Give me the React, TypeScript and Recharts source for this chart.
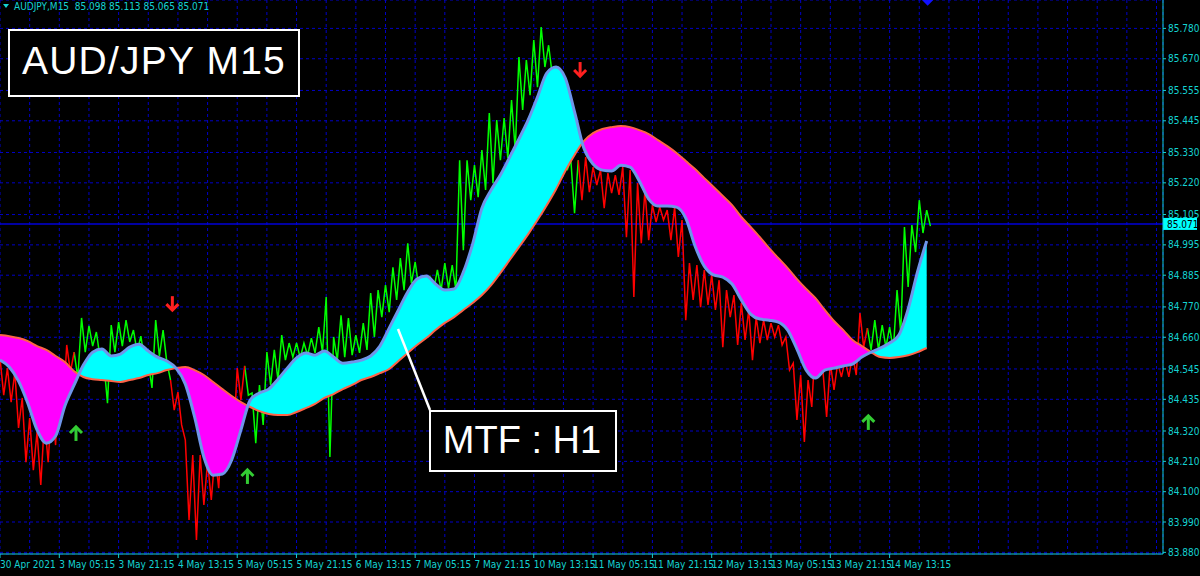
import React from 'react';
import {
  ComposedChart,
  Line,
  Area,
  Scatter,
  XAxis,
  YAxis,
  CartesianGrid,
  ReferenceLine,
} from 'recharts';

// x unit = one M15 bar. price is sampled every 8 bars (high, then low 4 bars later)
const priceSampleStep = 8;

const priceHighs = [
  84.585, 84.548, 84.534, 84.44, 84.367, 84.316, 84.36, 84.432, 84.559, 84.632,
  84.606, 84.73, 84.701, 84.679, 84.57, 84.704, 84.715, 84.722, 84.686, 84.664,
  84.57, 84.722, 84.686, 84.505, 84.461, 84.287, 84.233, 84.233, 84.207, 84.233,
  84.342, 84.45, 84.548, 84.556, 84.458, 84.487, 84.606, 84.614, 84.668, 84.639,
  84.639, 84.639, 84.657, 84.697, 84.806, 84.661, 84.74, 84.73, 84.668, 84.711,
  84.82, 84.831, 84.849, 84.914, 84.947, 85.001, 84.933, 84.878, 84.878, 84.904,
  84.929, 84.922, 85.302, 85.302, 85.284, 85.339, 85.473, 85.448, 85.455, 85.52,
  85.676, 85.665, 85.738, 85.785, 85.719, 85.611, 85.448, 85.302, 85.302, 85.313,
  85.277, 85.266, 85.255, 85.248, 85.277, 85.266, 85.219, 85.194, 85.139, 85.132,
  85.121, 85.132, 85.085, 84.929, 84.922, 84.904, 84.886, 84.867, 84.831, 84.813,
  84.784, 84.759, 84.733, 84.722, 84.711, 84.704, 84.661, 84.566, 84.523, 84.505,
  84.65, 84.541, 84.566, 84.566, 84.577, 84.595, 84.748, 84.693, 84.722, 84.704,
  84.697, 84.831, 85.06, 85.067, 85.157, 85.121,
];

const priceLows = [
  84.45, 84.425, 84.331, 84.207, 84.178, 84.124, 84.207, 84.269, 84.396, 84.534,
  84.512, 84.606, 84.628, 84.585, 84.421, 84.606, 84.628, 84.643, 84.606, 84.577,
  84.476, 84.592, 84.57, 84.396, 84.342, 83.997, 83.925, 84.052, 84.07, 84.113,
  84.197, 84.287, 84.432, 84.45, 84.276, 84.342, 84.487, 84.505, 84.577, 84.588,
  84.585, 84.595, 84.603, 84.606, 84.226, 84.577, 84.588, 84.595, 84.603, 84.614,
  84.661, 84.733, 84.751, 84.795, 84.831, 84.856, 84.838, 84.831, 84.831, 84.831,
  84.838, 84.831, 84.976, 85.157, 85.168, 85.194, 85.219, 85.302, 85.31, 85.339,
  85.484, 85.538, 85.567, 85.64, 85.611, 85.429, 85.266, 85.11, 85.157, 85.186,
  85.212, 85.128, 85.183, 85.176, 85.023, 84.806, 85.001, 85.012, 85.078, 85.085,
  85.012, 84.951, 84.722, 84.795, 84.769, 84.777, 84.759, 84.624, 84.733, 84.632,
  84.65, 84.577, 84.639, 84.65, 84.661, 84.632, 84.541, 84.36, 84.28, 84.407,
  84.523, 84.371, 84.469, 84.516, 84.516, 84.523, 84.624, 84.614, 84.614, 84.624,
  84.614, 84.675, 84.842, 84.969, 85.038, 85.063,
];

// MTF (H1) moving averages, sampled every 10 bars
const maSampleStep = 10;

const fastMaValues = [
  84.577, 84.552, 84.501, 84.421, 84.324, 84.276, 84.302, 84.411, 84.487, 84.559,
  84.606, 84.617, 84.592, 84.599, 84.624, 84.635, 84.61, 84.588, 84.574, 84.548,
  84.49, 84.371, 84.226, 84.16, 84.164, 84.215, 84.324, 84.432, 84.458, 84.472,
  84.508, 84.548, 84.585, 84.603, 84.595, 84.61, 84.588, 84.566, 84.57, 84.577,
  84.592, 84.628, 84.693, 84.759, 84.824, 84.871, 84.882, 84.853, 84.831, 84.835,
  84.896, 84.998, 85.128, 85.194, 85.248, 85.313, 85.379, 85.448, 85.531, 85.618,
  85.64, 85.6, 85.477, 85.346, 85.288, 85.266, 85.263, 85.284, 85.277, 85.226,
  85.161, 85.136, 85.136, 85.132, 85.092, 84.991, 84.918, 84.886, 84.878, 84.853,
  84.795, 84.744, 84.726, 84.722, 84.715, 84.686, 84.617, 84.541, 84.512, 84.541,
  84.548, 84.556, 84.563, 84.588, 84.606, 84.621, 84.639, 84.668, 84.762, 84.896,
  85.009,
];

const slowMaValues = [
  84.668, 84.664, 84.657, 84.646, 84.628, 84.614, 84.592, 84.57, 84.537, 84.516,
  84.508, 84.505, 84.501, 84.498, 84.505, 84.512, 84.523, 84.53, 84.541, 84.548,
  84.552, 84.541, 84.523, 84.498, 84.472, 84.447, 84.425, 84.407, 84.392, 84.382,
  84.378, 84.378, 84.389, 84.403, 84.418, 84.44, 84.454, 84.472, 84.487, 84.505,
  84.516, 84.53, 84.545, 84.574, 84.603, 84.632, 84.657, 84.686, 84.712, 84.733,
  84.759, 84.784, 84.813, 84.849, 84.893, 84.94, 84.987, 85.034, 85.085, 85.139,
  85.197, 85.263, 85.321, 85.371, 85.4, 85.415, 85.422, 85.426, 85.422, 85.411,
  85.397, 85.375, 85.353, 85.328, 85.299, 85.27, 85.237, 85.205, 85.172, 85.139,
  85.096, 85.06, 85.023, 84.983, 84.947, 84.911, 84.871, 84.835, 84.802, 84.759,
  84.719, 84.686, 84.65, 84.628, 84.606, 84.588, 84.585, 84.588, 84.595, 84.606,
  84.621,
];

// bars where fast MA crosses slow MA (chart starts in a down trend)
const trendSwitchBars = [84, 188, 268, 628, 938];

const buySignalBars = [82, 267, 937];
const buySignalPrices = [84.313, 84.157, 84.353];
const sellSignalBars = [186, 626];
const sellSignalPrices = [84.78, 85.629];
const blueSignalBars = [1001];
const blueSignalPrices = [85.892];

const timeLabels = [
  '30 Apr 2021', '3 May 05:15', '3 May 21:15', '4 May 13:15', '5 May 05:15',
  '5 May 21:15', '6 May 13:15', '7 May 05:15', '7 May 21:15', '10 May 13:15',
  '11 May 05:15', '11 May 21:15', '12 May 13:15', '13 May 05:15', '13 May 21:15',
  '14 May 13:15',
];
const timeLabelStep = 64;
const timeGridStep = 32;
const visibleBars = 1255;

const priceTickLabels = [
  '85.780', '85.670', '85.555', '85.445', '85.330', '85.220', '85.105', '84.995',
  '84.885', '84.770', '84.660', '84.545', '84.435', '84.320', '84.210', '84.100',
  '83.990', '83.880',
];
const priceRange: [number, number] = [83.874, 85.883];
const currentPrice = 85.071;

const BG = '#000000';
const GRID = '#0000c8';
const AXIS = '#14d2d2';
const UP_BAR = '#00ff00';
const DOWN_BAR = '#ff0000';
const UP_FILL = '#00ffff';
const DOWN_FILL = '#ff00ff';
const FAST_LINE = '#6f95ea';
const SLOW_LINE = '#ff6347';
const SMALL_FONT = "'Liberation Sans Narrow', 'DejaVu Sans Condensed', 'Liberation Sans', sans-serif";
const BIG_FONT = "'Liberation Sans', Arial, sans-serif";

// draw order: price + bid line under the band, MA outlines and arrows on top
const Z_PRICE = 400;
const Z_BAND = 500;
const Z_MA = 550;
const Z_SIGNAL = 650;

const isUpAt = (bar: number) => trendSwitchBars.filter((b) => bar >= b).length % 2 === 1;

const zigzag = priceHighs.flatMap((hi, k) => [
  { bar: k * priceSampleStep, price: hi },
  { bar: k * priceSampleStep + priceSampleStep / 2, price: priceLows[k] },
]);

const priceRows = zigzag.map((p, i) => {
  const next = zigzag[i + 1];
  const up = isUpAt(p.bar) || (next !== undefined && isUpAt(next.bar));
  const down = !isUpAt(p.bar) || (next !== undefined && !isUpAt(next.bar));
  return { bar: p.bar, up: up ? p.price : null, down: down ? p.price : null };
});

const maRows = fastMaValues.map((fast, j) => ({
  bar: j * maSampleStep,
  fast,
  slow: slowMaValues[j],
}));
const maLastBar = (fastMaValues.length - 1) * maSampleStep;

const bandEdges = [0, ...trendSwitchBars.map((b) => b / maLastBar), 1];

// horizontal bid line across the whole plot, drawn beneath the MA band
const bidLineRows = [
  { bar: 0, bid: currentPrice },
  { bar: visibleBars, bid: currentPrice },
];

const toPoints = (bars: number[], prices: number[]) =>
  bars.map((bar, i) => ({ bar, price: prices[i] }));

const gridTicks = Array.from({ length: Math.floor(visibleBars / timeGridStep) + 1 }, (_, i) => i * timeGridStep);
const priceTicks = priceTickLabels.map((t) => parseFloat(t));

function TimeTick({ x, y, payload }: any) {
  const v = payload.value as number;
  const label = v % timeLabelStep === 0 ? timeLabels[v / timeLabelStep] : undefined;
  if (!label) return <g />;
  return (
    <g>
      <line x1={x} y1={y} x2={x} y2={y + 4} stroke={AXIS} />
      <text x={x} y={y + 13.5} fill={AXIS} fontSize={10} fontFamily={SMALL_FONT} textAnchor="start">
        {label}
      </text>
    </g>
  );
}

function PriceTag(props: any) {
  const vb = props.viewBox ?? {};
  const x = (vb.x ?? 0) + (vb.width ?? 0);
  const y = vb.y ?? 0;
  return (
    <g>
      <rect x={x} y={y - 6} width={34} height={12} fill="#00ffff" />
      <text x={x + 4} y={y + 4} fill="#000" fontSize={10} fontFamily={SMALL_FONT}>
        {currentPrice.toFixed(3)}
      </text>
    </g>
  );
}

function SignalArrow({ cx, cy, color, up }: { cx: number; cy: number; color: string; up: boolean }) {
  const s = up ? 1 : -1;
  return (
    <g stroke={color} strokeWidth={3} fill="none">
      <line x1={cx} y1={cy - 6 * s} x2={cx} y2={cy + 8 * s} />
      <polyline points={`${cx - 6},${cy} ${cx},${cy - 6 * s} ${cx + 6},${cy}`} strokeLinejoin="miter" />
    </g>
  );
}

export default function App(): React.JSX.Element {
  return (
    <div style={{ position: 'absolute', left: 0, top: 0, width: 1200, height: 576, background: BG, overflow: 'hidden' }}>
      <ComposedChart width={1200} height={576} data={maRows} margin={{ top: 0, right: 0, bottom: 0, left: 0 }}>
        <defs>
          <linearGradient id="bandFill" x1="0" y1="0" x2="1" y2="0">
            {bandEdges.slice(0, -1).flatMap((edge, i) => {
              const color = i % 2 === 0 ? DOWN_FILL : UP_FILL;
              return [
                <stop key={`a${i}`} offset={edge} stopColor={color} />,
                <stop key={`b${i}`} offset={bandEdges[i + 1]} stopColor={color} />,
              ];
            })}
          </linearGradient>
        </defs>
        <CartesianGrid stroke={GRID} strokeDasharray="3 3" />
        <XAxis
          dataKey="bar"
          type="number"
          domain={[0, visibleBars]}
          allowDataOverflow
          ticks={gridTicks}
          interval={0}
          height={22}
          tickSize={0}
          tickMargin={0}
          tickLine={false}
          axisLine={{ stroke: AXIS }}
          tick={<TimeTick />}
        />
        <YAxis
          orientation="right"
          type="number"
          domain={priceRange}
          allowDataOverflow
          ticks={priceTicks}
          interval={0}
          width={37}
          tickSize={3}
          tickMargin={2}
          axisLine={{ stroke: AXIS }}
          tickLine={{ stroke: AXIS }}
          tick={{ fill: AXIS, fontSize: 10, fontFamily: SMALL_FONT }}
          tickFormatter={(v: number) => v.toFixed(3)}
        />
        <Line
          data={bidLineRows}
          dataKey="bid"
          stroke="#0000d8"
          strokeWidth={1.5}
          dot={false}
          activeDot={false}
          isAnimationActive={false}
          zIndex={Z_PRICE}
        />
        <Line
          data={priceRows}
          dataKey="up"
          stroke={UP_BAR}
          strokeWidth={1.5}
          dot={false}
          activeDot={false}
          connectNulls={false}
          isAnimationActive={false}
          zIndex={Z_PRICE}
        />
        <Line
          data={priceRows}
          dataKey="down"
          stroke={DOWN_BAR}
          strokeWidth={1.5}
          dot={false}
          activeDot={false}
          connectNulls={false}
          isAnimationActive={false}
          zIndex={Z_PRICE}
        />
        <Area
          type="monotone"
          dataKey={(r: any) => [r.slow, r.fast]}
          fill="url(#bandFill)"
          fillOpacity={1}
          stroke="none"
          dot={false}
          activeDot={false}
          isAnimationActive={false}
          zIndex={Z_BAND}
        />
        <Line type="monotone" dataKey="slow" stroke={SLOW_LINE} strokeWidth={2} dot={false} activeDot={false} isAnimationActive={false} zIndex={Z_MA} />
        <Line type="monotone" dataKey="fast" stroke={FAST_LINE} strokeWidth={3} dot={false} activeDot={false} isAnimationActive={false} zIndex={Z_MA} />
        <Scatter
          data={toPoints(buySignalBars, buySignalPrices)}
          dataKey="price"
          isAnimationActive={false}
          zIndex={Z_SIGNAL}
          shape={(p: any) => <SignalArrow cx={p.cx} cy={p.cy} color="#33cc33" up />}
        />
        <Scatter
          data={toPoints(sellSignalBars, sellSignalPrices)}
          dataKey="price"
          isAnimationActive={false}
          zIndex={Z_SIGNAL}
          shape={(p: any) => <SignalArrow cx={p.cx} cy={p.cy} color="#ff2020" up={false} />}
        />
        <Scatter
          data={toPoints(blueSignalBars, blueSignalPrices)}
          dataKey="price"
          isAnimationActive={false}
          zIndex={Z_SIGNAL}
          shape={(p: any) => <SignalArrow cx={p.cx} cy={p.cy} color="#1010ff" up={false} />}
        />
        <ReferenceLine y={currentPrice} stroke="none" label={<PriceTag />} />
      </ComposedChart>

      <svg width={1200} height={576} style={{ position: 'absolute', left: 0, top: 0, pointerEvents: 'none' }}>
        <path d="M3 4 L9 4 L6 8 Z" fill={AXIS} />
        <text x={14} y={10} fill={AXIS} fontSize={10} fontFamily={SMALL_FONT} xmlSpace="preserve">
          {'AUDJPY,M15  85.098 85.113 85.065 85.071'}
        </text>

        <rect x={9} y={30} width={290} height={66} fill={BG} stroke="#ffffff" strokeWidth={2} />
        <text x={154} y={74} fill="#ffffff" fontSize={39} fontFamily={BIG_FONT} textAnchor="middle" letterSpacing={1.2}>
          AUD/JPY M15
        </text>

        <line x1={398} y1={329} x2={430} y2={410} stroke="#ffffff" strokeWidth={2.5} />
        <rect x={430} y={411} width={186} height={60} fill={BG} stroke="#ffffff" strokeWidth={2} />
        <text x={522} y={453} fill="#ffffff" fontSize={38} fontFamily={BIG_FONT} textAnchor="middle">
          MTF : H1
        </text>
      </svg>
    </div>
  );
}
